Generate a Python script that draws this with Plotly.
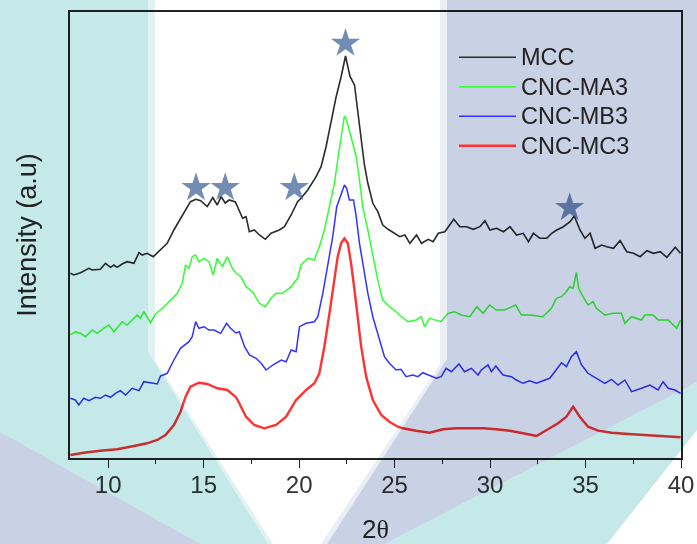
import plotly.graph_objects as go

# ---------------- data ----------------
mcc_x = [8.02, 8.20, 8.55, 8.99, 9.16, 9.59, 9.86, 10.12, 10.30, 10.47, 10.73, 10.99, 11.35, 11.61, 11.78,
         12.04, 12.36, 12.74, 13.09, 13.44, 13.79, 14.05, 14.31, 14.59, 14.84, 15.19, 15.48, 15.71, 15.92,
         16.13, 16.34, 16.66, 17.04, 17.22, 17.39, 17.65, 17.92, 18.23, 18.53, 18.96, 19.23, 19.58, 19.92,
         20.10, 20.45, 20.89, 21.15, 21.41, 21.68, 21.94, 22.20, 22.43, 22.55, 22.67, 22.90, 23.07, 23.25,
         23.42, 23.60, 23.86, 24.12, 24.38, 24.66, 25.01, 25.27, 25.54, 25.80, 26.15, 26.41, 26.76, 27.02,
         27.29, 27.63, 28.10, 28.42, 28.77, 29.12, 29.47, 29.73, 29.99, 30.34, 30.70, 31.04, 31.39, 31.74,
         32.01, 32.27, 32.61, 32.97, 33.23, 33.49, 33.84, 34.19, 34.41, 34.71, 34.97, 35.24, 35.50, 35.85,
         36.11, 36.46, 36.81, 37.16, 37.51, 37.86, 38.21, 38.56, 38.91, 39.26, 39.70, 39.97]
mcc_y = [184.7, 183, 185.3, 189.7, 188, 188.7, 194.7, 190.7, 193, 190.7, 194, 196.3, 194.7, 205.3, 203,
         204.7, 201.3, 208, 214.7, 228, 239.7, 248.7, 256.3, 258.7, 257.3, 251.5, 260.5, 253, 261.3,
         255, 258, 256, 239.7, 241.3, 226.3, 228, 223, 218.7, 224.7, 228, 231.3, 243, 256.3,
         259.7, 268, 281.3, 291.3, 311.3, 338, 361.3, 381.3, 402, 391.3, 381.3, 373, 348, 318,
         293, 274.7, 254.7, 246.3, 233, 228.7, 224.7, 221.3, 223, 214.7, 223, 214.7, 218.7, 216.3,
         224.7, 226.3, 238.7, 231.3, 231.3, 228.7, 231.3, 237.3, 228, 229.7, 226.3, 231.3, 223, 224.7,
         216.3, 224.7, 219.7, 219.7, 224.7, 228, 231.3, 236.3, 242, 228, 219.7, 224.7, 209.7, 213,
         211.3, 209.7, 217.3, 206.3, 204.7, 201.3, 207.3, 204.7, 206.3, 200.7, 210.7, 204.7]

ma3_x = [8.02, 8.28, 8.55, 8.81, 9.16, 9.42, 9.77, 10.03, 10.30, 10.73, 10.99, 11.17, 11.52, 11.69, 11.87,
         12.22, 12.48, 12.92, 13.27, 13.62, 13.88, 14.05, 14.23, 14.40, 14.58, 14.75, 15.02, 15.28, 15.50,
         15.71, 15.98, 16.24, 16.50, 16.70, 16.96, 17.22, 17.56, 17.92, 18.23, 18.53, 18.79, 19.14, 19.58,
         19.92, 20.10, 20.45, 20.80, 21.06, 21.32, 21.59, 21.85, 22.02, 22.20, 22.37, 22.49, 22.67, 22.85,
         22.99, 23.16, 23.33, 23.60, 23.86, 24.12, 24.38, 24.73, 25.08, 25.26, 25.69, 26.13, 26.40, 26.57,
         26.83, 27.18, 27.44, 27.79, 28.14, 28.49, 28.93, 29.31, 29.63, 29.98, 30.33, 30.76, 31.34, 31.64,
         32.07, 32.51, 32.77, 33.21, 33.47, 33.74, 34.00, 34.17, 34.35, 34.52, 34.64, 34.87, 35.13, 35.39,
         35.57, 36.01, 36.44, 36.88, 37.06, 37.41, 37.93, 38.10, 38.54, 38.80, 39.33, 39.77, 39.98]
ma3_y = [123, 126.3, 124.7, 121.3, 128, 124.7, 129.7, 133, 126.3, 136.3, 133, 136.3, 143, 139.7, 146.3,
         135.3, 144, 151.3, 158, 164.7, 174.7, 193, 189.7, 201.3, 203, 196.3, 199.7, 196.3, 183,
         199.7, 191.3, 201.3, 189.7, 184.7, 181.3, 171.3, 166.3, 154.7, 151.3, 159.7, 164.7, 164.7, 171.3,
         179.7, 193, 199.7, 198, 211.3, 228, 251.3, 274.7, 298, 321.3, 342, 338, 324.7, 313,
         301.3, 278, 251.3, 228, 201.3, 178, 158, 151.3, 146.3, 143, 136.3, 138, 141.3, 131.3,
         139.7, 138, 136.3, 144.7, 146.3, 143, 141.3, 151.3, 144.7, 153, 148, 148, 153, 143,
         143, 142, 141.3, 149.7, 159.7, 161.3, 166.3, 171.3, 169.7, 185.5, 169.7, 161.3, 153, 156.3,
         149.7, 143, 144.7, 144.7, 134.7, 141.3, 138, 143, 143, 138, 138, 129.7, 138]

mb3_x = [8.02, 8.28, 8.46, 8.72, 8.99, 9.33, 9.59, 9.86, 10.12, 10.38, 10.64, 10.91, 11.26, 11.61, 11.87,
         12.22, 12.57, 12.74, 13.09, 13.44, 13.79, 14.23, 14.40, 14.58, 14.75, 15.02, 15.28, 15.54, 15.89,
         16.20, 16.41, 16.69, 16.87, 17.14, 17.40, 17.75, 18.01, 18.27, 18.62, 19.06, 19.32, 19.58, 19.84,
         20.02, 20.37, 20.80, 20.98, 21.24, 21.50, 21.76, 21.97, 22.20, 22.37, 22.49, 22.63, 22.85, 22.99,
         23.16, 23.33, 23.60, 23.86, 24.21, 24.47, 24.73, 25.08, 25.34, 25.60, 25.95, 26.22, 26.48, 26.74,
         27.18, 27.44, 27.70, 27.97, 28.37, 28.66, 29.02, 29.37, 29.54, 29.89, 30.07, 30.30, 30.68, 31.12,
         31.38, 31.73, 32.07, 32.43, 32.69, 33.12, 33.39, 33.74, 34.00, 34.26, 34.52, 34.79, 35.13, 35.57,
         36.01, 36.36, 36.70, 37.06, 37.41, 37.93, 38.37, 38.80, 39.06, 39.33, 39.68, 39.98]
mb3_y = [59.7, 58, 53, 59.7, 57.3, 60.7, 59.7, 63, 60.7, 64.7, 67.3, 63, 69.7, 67.3, 76.3,
         75.3, 74, 82, 84.7, 98, 109.7, 116.3, 121.3, 136.3, 129.7, 131.3, 128, 128, 124.7,
         134.7, 129.7, 125, 126.3, 111.3, 103, 99.7, 94.7, 88, 93, 98, 96.3, 108, 106.3,
         131.3, 134.7, 136.3, 141.3, 164.7, 194.7, 221.3, 251.3, 264.7, 273, 269.7, 258, 258, 241.3,
         214.7, 194.7, 164.7, 141.3, 118, 101.3, 94.7, 88, 88.7, 81.3, 83, 81.3, 85.3, 83,
         79.7, 81.3, 89.7, 86.3, 94, 86.3, 89.7, 83, 88, 93, 86.3, 92, 83, 81.3,
         78, 74.7, 77.3, 74.7, 76.3, 79.7, 86.3, 95.3, 91.3, 101.3, 106.3, 93, 84.7, 79.7,
         74.7, 78.7, 73, 78, 66.3, 69.7, 73, 68, 76.3, 69.7, 68, 64.7]

mc3_x = [8.02, 8.72, 9.59, 10.47, 11.35, 12.04, 12.57, 13.00, 13.44, 13.79, 14.05, 14.31, 14.75, 15.19,
         15.71, 16.24, 16.67, 16.78, 17.22, 17.65, 18.18, 18.79, 19.32, 19.84, 20.37, 20.80, 21.06, 21.32,
         21.59, 21.85, 22.02, 22.20, 22.37, 22.55, 22.72, 22.90, 23.07, 23.25, 23.51, 23.86, 24.30, 24.73,
         25.17, 25.43, 26.13, 26.83, 27.53, 28.23, 28.93, 29.63, 30.33, 31.03, 31.73, 32.43, 33.03, 33.56,
         34.00, 34.35, 34.70, 35.13, 35.66, 36.36, 37.23, 38.11, 38.98, 39.98]
mc3_y = [3, 5.3, 7.3, 8.7, 12, 14.7, 18, 23, 33, 46.3, 61.3, 71.3, 75.3, 74,
         69.7, 68, 61.3, 58, 41.3, 33, 29.7, 33, 41.3, 58, 68, 74.7, 84.7, 111.3,
         144.7, 181.3, 201.3, 214.7, 219.7, 214.7, 194.7, 168, 138, 111.3, 81.3, 58, 43, 36.3,
         31.3, 29.7, 27.3, 25.3, 28.7, 29.7, 29.7, 29.7, 28.7, 27.3, 24.7, 22, 28.7, 34.7,
         41.3, 51.3, 41.3, 31.3, 27.3, 25.3, 24, 23, 22, 20.7]

star_x = [14.60, 16.13, 19.75, 22.43, 34.17]
star_y = [270.3, 270.3, 270.3, 414.6, 250.3]

x_ticks = [10, 15, 20, 25, 30, 35, 40]
series_names = ["MCC", "CNC-MA3", "CNC-MB3", "CNC-MC3"]
series_colors = ["#2b2b2b", "#33ff33", "#3333ff", "#ff3333"]

# ---------------- figure ----------------
FONT = "Liberation Sans, Arial, sans-serif"
fig = go.Figure()
for name, xs, ys, col, w in zip(series_names, [mcc_x, ma3_x, mb3_x, mc3_x],
                                [mcc_y, ma3_y, mb3_y, mc3_y], series_colors, [1.6, 1.5, 1.5, 2.4]):
    fig.add_trace(go.Scatter(x=xs, y=ys, mode="lines",
                             name=f'<span style="font-size:23.5px">{name}</span>',
                             line=dict(color=col, width=w)))

fig.add_trace(go.Scatter(x=star_x, y=star_y, mode="markers", showlegend=False,
                         marker=dict(symbol="star", size=22, color="rgba(60,95,150,0.72)",
                                     line=dict(width=0))))

# background decoration (pixel geometry -> paper coordinates)
L, R, T, B = 70, 681, 12, 458
def P(px, py):
    return ((px - L) / (R - L), (B - py) / (B - T))

def poly(pts, color):
    cs = [P(*p) for p in pts]
    path = "M" + " L".join(f"{x:.4f},{y:.4f}" for x, y in cs) + " Z"
    return dict(type="path", xref="paper", yref="paper", path=path,
                fillcolor=color, line=dict(width=0), layer="above")

CYAN, LAV = "#c5e8e8", "#c9d1e5"
shapes = [
    poly([(0, 0), (155, 0), (155, 360), (273, 544), (0, 544)], "#e0f2f2"),
    poly([(0, 0), (148, 0), (148, 352), (268, 544), (0, 544)], CYAN),
    poly([(0, 432), (200, 544), (0, 544)], LAV),
    poly([(440, 0), (697, 0), (697, 544), (321, 544), (440, 364)], "#eceef6"),
    poly([(447, 0), (697, 0), (697, 544), (327, 544), (447, 359)], LAV),
    poly([(384, 544), (697, 382), (697, 544)], CYAN),
    poly([(697, 430), (697, 544), (607, 544)], "#ffffff"),
]

lx, ly = P(454, 37.5)
fig.update_layout(
    width=697, height=544,
    margin=dict(l=L, r=697 - R, t=T, b=544 - B),
    paper_bgcolor="white", plot_bgcolor="white",
    font=dict(family=FONT, color="#333333"),
    shapes=shapes,
    showlegend=True,
    legend=dict(x=lx, y=ly, xanchor="left", yanchor="top", bgcolor="rgba(0,0,0,0)",
                font=dict(size=20.4, color="#222222"), itemwidth=57, tracegroupgap=0),
    xaxis=dict(range=[8, 40], tickvals=x_ticks, ticks="outside", ticklen=8, tickwidth=1,
               tickcolor="#222", showgrid=False, zeroline=False, automargin=False,
               showline=True, linecolor="#222", linewidth=1.5, mirror=True,
               tickfont=dict(size=24, color="#333333"), ticklabelstandoff=-4,
               minor=dict(dtick=2.5, tick0=0, ticks="outside", ticklen=4, tickcolor="#222"),
               title=dict(text='2<span style="font-family:Liberation Serif">θ</span>',
                          font=dict(size=26, color="#222"), standoff=27)),
    yaxis=dict(range=[0, 446], showticklabels=False, ticks="", showgrid=False, zeroline=False,
               automargin=False,
               showline=True, linecolor="#222", linewidth=1.5, mirror=True,
               title=dict(text="Intensity (a.u)", font=dict(size=27, color="#222"), standoff=24)),
)

post = """
var s=document.createElement('style');
s.textContent='.layer-above .shapelayer{mix-blend-mode:multiply;}';
document.head.appendChild(s);
"""
fig.write_html("out.html", post_script=post)
